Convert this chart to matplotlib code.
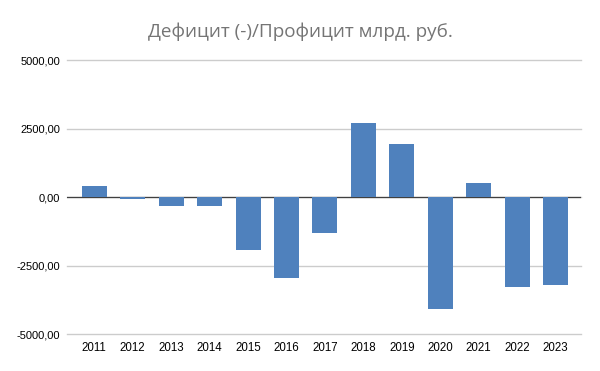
import matplotlib
matplotlib.use('Agg')
import matplotlib.pyplot as plt
from matplotlib.ticker import FuncFormatter

# Дефицит/профицит бюджета, млрд. руб.
years = ['2011', '2012', '2013', '2014', '2015', '2016', '2017',
         '2018', '2019', '2020', '2021', '2022', '2023']
balance = [410, -60, -340, -340, -1940, -2960, -1320,
           2706, 1930, -4090, 510, -3300, -3216]

fig = plt.figure(figsize=(6, 3.71), dpi=100)
ax = fig.add_axes([67 / 600, 0.0997, 514 / 600, 0.7383])

ax.bar(range(len(years)), balance, width=0.65, color='#4F81BD', zorder=3)
ax.axhline(0, color='#404040', linewidth=0.9, zorder=2)

ax.set_xlim(-0.71, len(years) - 0.34)
ax.set_ylim(-5000, 5000)
ax.set_yticks([-5000, -2500, 0, 2500, 5000])
ax.yaxis.set_major_formatter(FuncFormatter(lambda v, p: f'{v:.2f}'.replace('.', ',')))
ax.set_xticks(range(len(years)))
ax.set_xticklabels(years)

ax.grid(axis='y', color='#CCCCCC', linewidth=1, zorder=0)
for gl in ax.get_ygridlines():
    gl.set_clip_on(False)
for s in ax.spines.values():
    s.set_visible(False)
ax.tick_params(axis='y', length=0, labelsize=8, colors='black', pad=5)
ax.tick_params(axis='x', length=0, labelsize=8.3, colors='black', pad=6)
for lbl in ax.get_xticklabels() + ax.get_yticklabels():
    lbl.set_family('Liberation Sans')

fig.suptitle('Дефицит (-)/Профицит млрд. руб.', x=0.5, y=0.94,
             fontsize=13.6, color='#757575', family='Open Sans')

fig.savefig('out.png', dpi=100, facecolor='white')
